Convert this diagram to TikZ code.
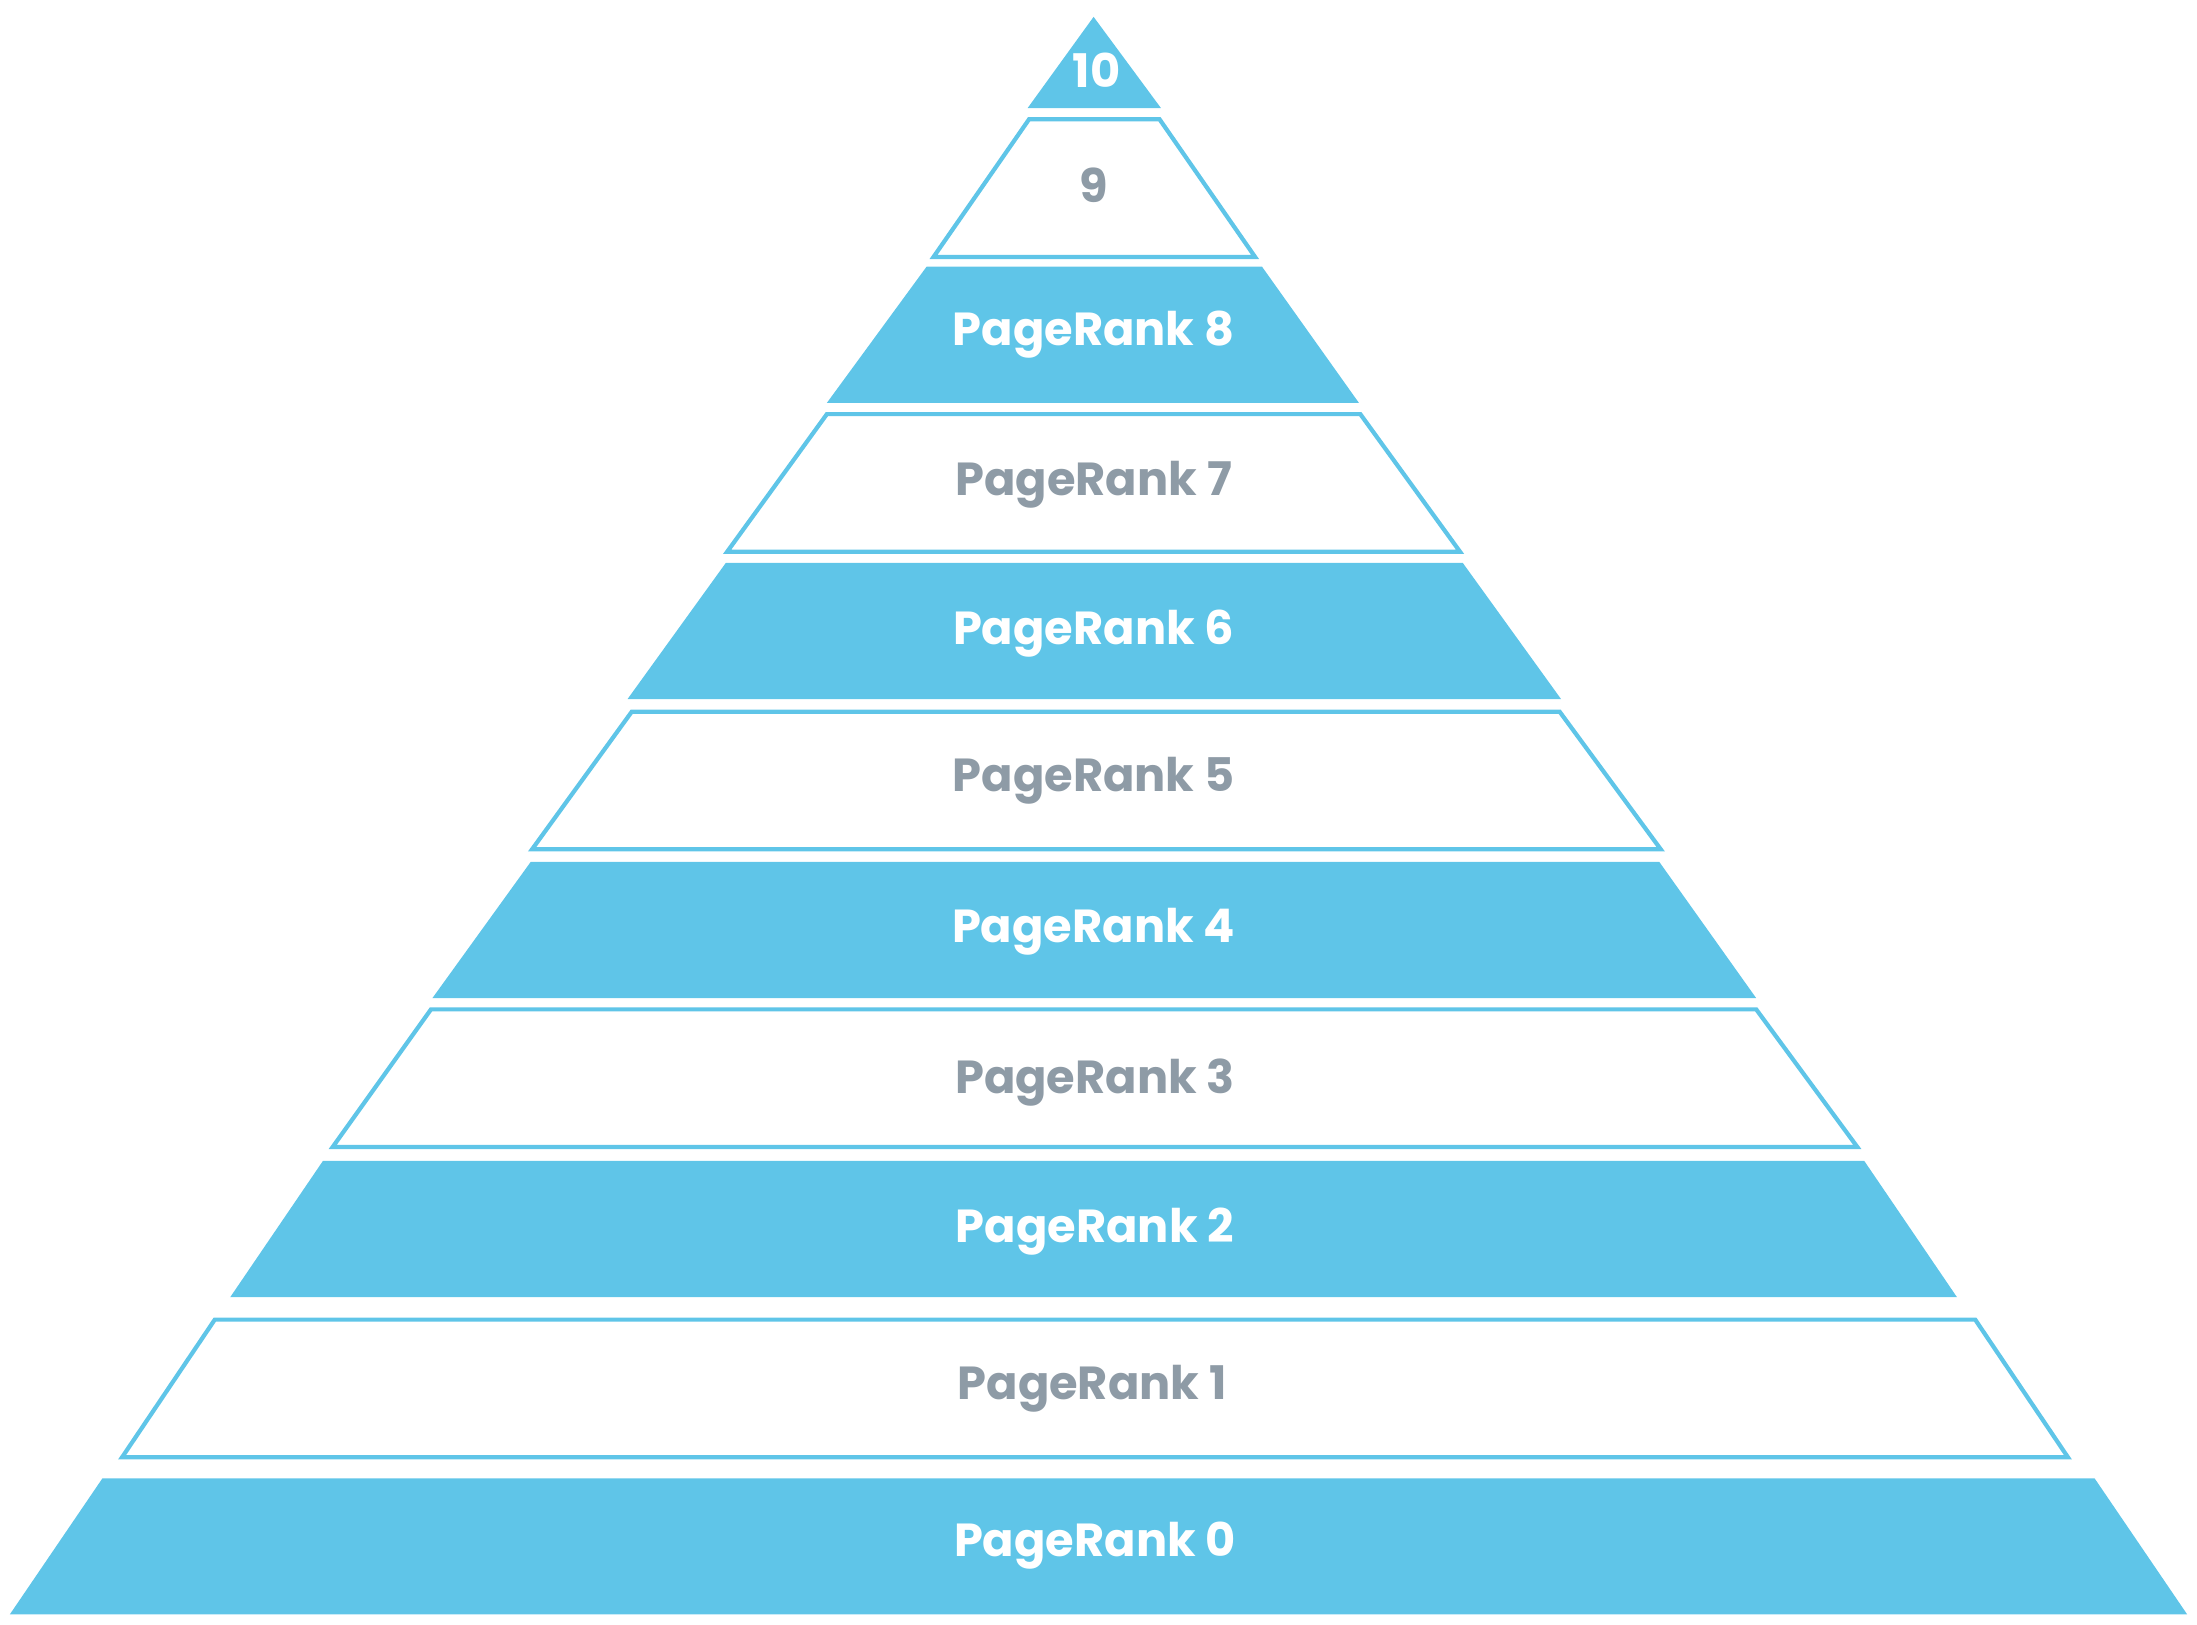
\documentclass[tikz,border=0pt]{standalone}
\usepackage{fontspec}
\setmainfont{Poppins}
\definecolor{pblue}{HTML}{5FC5E8}
\definecolor{pgrey}{HTML}{8E9BA6}
\begin{document}
\begin{tikzpicture}[x=1pt,y=-1pt,
  fillband/.style={fill=pblue,draw=none},
  outband/.style={draw=pblue,line width=3pt,fill=white,line join=miter},
  wlab/.style={text=white,font=\fontsize{33}{36}\selectfont\bfseries},
  glab/.style={text=pgrey,font=\fontsize{33}{36}\selectfont\bfseries}]
\useasboundingbox (0,0) rectangle (1565,1157);
\fill[pblue] (779,12) -- (827,77) -- (732,77) -- cycle;
\node[wlab] (l10) at (781,50) {10};
\draw[outband] (733,85) -- (826,85) -- (894,183) -- (665,183) -- cycle;
\node[glab] (l9) at (779,132) {9};
\fill[fillband] (660,190) -- (899,190) -- (968,287) -- (589,287) -- cycle;
\node[wlab] (l8) at (779,238) {PageRank 8};
\draw[outband] (589,295) -- (969,295) -- (1040,393) -- (518,393) -- cycle;
\node[glab] (l7) at (779,345) {PageRank 7};
\fill[fillband] (517,401) -- (1042,401) -- (1112,498) -- (447,498) -- cycle;
\node[wlab] (l6) at (779,451) {PageRank 6};
\draw[outband] (450,507) -- (1111,507) -- (1183,605) -- (379,605) -- cycle;
\node[glab] (l5) at (779,556) {PageRank 5};
\fill[fillband] (378,614) -- (1182,614) -- (1251,711) -- (308,711) -- cycle;
\node[wlab] (l4) at (779,664) {PageRank 4};
\draw[outband] (307,719) -- (1251,719) -- (1323,817) -- (237,817) -- cycle;
\node[glab] (l3) at (780,771) {PageRank 3};
\fill[fillband] (230,827) -- (1328,827) -- (1394,924) -- (164,924) -- cycle;
\node[wlab] (l2) at (780,877) {PageRank 2};
\draw[outband] (153,940) -- (1407,940) -- (1473,1038) -- (87,1038) -- cycle;
\node[glab] (l1) at (778,989) {PageRank 1};
\fill[fillband] (73,1053) -- (1492,1053) -- (1558,1150) -- (7,1150) -- cycle;
\node[wlab] (l0) at (780,1101) {PageRank 0};
\end{tikzpicture}
\end{document}
